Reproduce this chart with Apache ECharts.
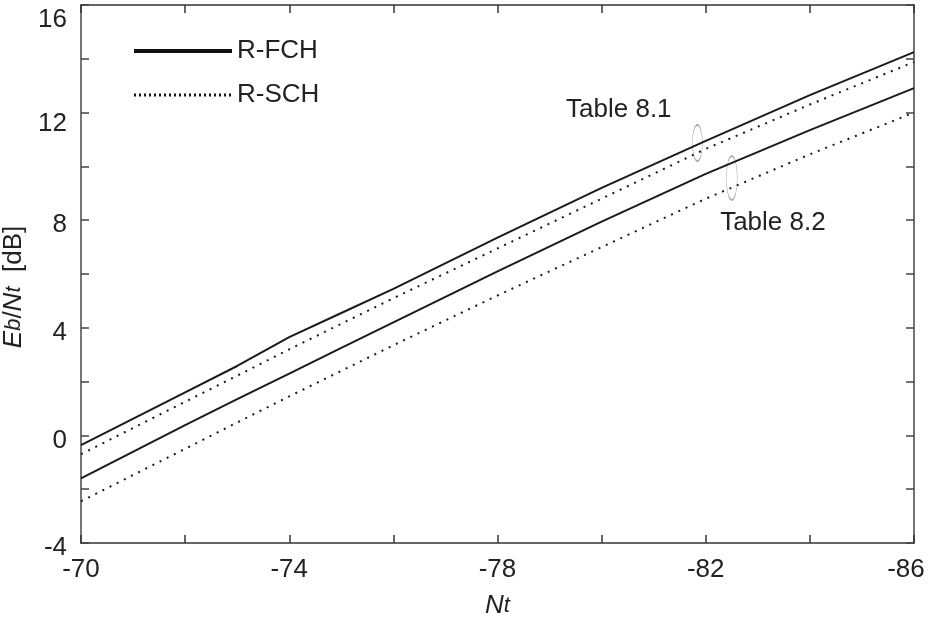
<!DOCTYPE html>
<html>
<head>
<meta charset="utf-8">
<script src="https://cdn.jsdelivr.net/npm/echarts@6/dist/echarts.min.js"></script>
<style>html,body{margin:0;padding:0;background:#fff}#c{width:929px;height:617px}</style>
</head>
<body>
<div id="c"></div>
<script>
// ---- data ----
const nt = [-70, -72, -73, -74, -75, -76, -78, -80, -82, -84, -86];
const fch81 = [-0.36, 1.6, 2.58, 3.65, 4.55, 5.45, 7.35, 9.2, 10.95, 12.65, 14.25];
const sch81 = [-0.7, 1.25, 2.22, 3.2, 4.15, 5.1, 6.95, 8.8, 10.65, 12.3, 13.88];
const fch82 = [-1.6, 0.38, 1.35, 2.3, 3.25, 4.2, 6.1, 7.95, 9.72, 11.35, 12.91];
const sch82 = [-2.45, -0.5, 0.48, 1.45, 2.4, 3.35, 5.2, 7.0, 8.8, 10.45, 12.0];
const legendNames = ['R-FCH', 'R-SCH'];
const annotTexts = ['Table 8.1', 'Table 8.2'];
const annotTextPos = [[-80.33, 12.1], [-83.29, 7.9]];
const ellipsePos = [[-81.84, 10.87], [-82.5, 9.57]];
const ellipseSize = [[10, 36], [11, 44]];

const FONT = 'Liberation Sans, Arial, sans-serif';
const FS = 26;
const TXT = '#222';
const pts = v => nt.map((x, i) => [x, v[i]]);
const lineCol = '#1a1a1a';
const solid = { color: lineCol, width: 2, type: 'solid' };
const dotted = { color: lineCol, width: 2, type: [2, 6] };
const lbl = extra => Object.assign({ fontSize: FS, color: TXT, fontFamily: FONT }, extra);

const axisCommonX = {
  type: 'value', min: -86, max: -70, interval: 2, inverse: true,
  splitLine: { show: false },
  axisTick: { inside: true, length: 8, lineStyle: { color: '#333', width: 1.5 } },
  axisLine: { onZero: false, lineStyle: { color: '#333', width: 1.5 } }
};
const axisCommonY = {
  type: 'value', min: -4, max: 16, interval: 2,
  splitLine: { show: false },
  axisTick: { inside: true, length: 8, lineStyle: { color: '#444', width: 1.5 } },
  axisLine: { onZero: false, lineStyle: { color: '#444', width: 1.5 } }
};

const chart = echarts.init(document.getElementById('c'), null, { renderer: 'canvas' });
chart.setOption({
  animation: false,
  backgroundColor: '#fff',
  textStyle: { fontFamily: FONT },
  grid: { left: 81, right: 15, top: 5, bottom: 74, containLabel: false, outerBoundsMode: 'none' },
  legend: {
    orient: 'vertical', left: 127, top: 33,
    itemWidth: 98, itemHeight: 14, itemGap: 18,
    textStyle: { fontFamily: FONT, fontSize: FS, color: TXT },
    data: [
      { name: legendNames[0], lineStyle: { width: 4, color: '#111', type: 'solid' }, itemStyle: { color: 'rgba(0,0,0,0)', borderWidth: 0, opacity: 0 } },
      { name: legendNames[1], lineStyle: { width: 3, color: '#111', type: [2, 3] }, itemStyle: { color: 'rgba(0,0,0,0)', borderWidth: 0, opacity: 0 } }
    ]
  },
  xAxis: [
    Object.assign({}, axisCommonX, {
      position: 'bottom',
      axisLabel: {
        margin: 14, fontSize: FS, color: TXT, fontFamily: FONT,
        showMinLabel: true, showMaxLabel: true,
        formatter: v => ((v + 70) % 4 !== 0 ? '' : (v === -86 ? '{e|' + v + '}' : '{n|' + v + '}')),
        rich: { n: lbl({}), e: lbl({ padding: [0, 16, 0, 0] }) }
      },
      name: '{i|N}{s|t}', nameLocation: 'middle', nameGap: 50,
      nameTextStyle: {
        rich: {
          i: lbl({ fontStyle: 'italic' }),
          s: lbl({ fontStyle: 'italic', fontSize: 22 })
        }
      }
    }),
    Object.assign({}, axisCommonX, { position: 'top', axisLabel: { show: false } })
  ],
  yAxis: [
    Object.assign({}, axisCommonY, {
      position: 'left',
      axisLine: { onZero: false, lineStyle: { color: '#777', width: 2 } },
      axisLabel: {
        margin: 14, fontSize: FS, color: TXT, fontFamily: FONT,
        showMinLabel: true, showMaxLabel: true,
        formatter: v => (v % 4 !== 0 ? '' : '{' + (v === 16 ? 'a' : v === 12 ? 'b' : 'n') + '|' + v + '}'),
        rich: {
          n: lbl({ padding: [10, 0, 0, 0] }),
          b: lbl({ padding: [22, 0, 0, 0] }),
          a: lbl({ padding: [30, 0, 0, 0] })
        }
      },
      name: '{i|E}{s|b}{n|/}{i|N}{s|t}{n|  [dB]}', nameLocation: 'middle', nameGap: 46,
      nameTextStyle: {
        padding: [0, 26, 0, 0],
        rich: {
          i: lbl({ fontStyle: 'italic' }),
          s: lbl({ fontStyle: 'italic', fontSize: 22 }),
          n: lbl({})
        }
      }
    }),
    Object.assign({}, axisCommonY, { position: 'right', axisLabel: { show: false } })
  ],
  series: [
    { name: legendNames[0], type: 'line', symbol: 'none', data: pts(fch81), lineStyle: solid, itemStyle: { color: lineCol } },
    { name: legendNames[1], type: 'line', symbol: 'none', data: pts(sch81), lineStyle: dotted, itemStyle: { color: lineCol } },
    { name: legendNames[0], type: 'line', symbol: 'none', data: pts(fch82), lineStyle: solid, itemStyle: { color: lineCol } },
    { name: legendNames[1], type: 'line', symbol: 'none', data: pts(sch82), lineStyle: dotted, itemStyle: { color: lineCol } },
    {
      name: 'ellipses', type: 'scatter', symbol: 'circle', silent: true,
      itemStyle: { color: 'rgba(0,0,0,0)', borderColor: '#aaa', borderWidth: 1, opacity: 1 },
      data: ellipsePos.map((p, i) => ({ value: p, symbolSize: ellipseSize[i] }))
    },
    {
      name: 'annot', type: 'scatter', symbolSize: 0, silent: true,
      itemStyle: { opacity: 1, color: TXT },
      label: { show: true, position: 'inside', fontSize: FS, color: TXT, fontFamily: FONT, formatter: p => p.name },
      data: annotTextPos.map((p, i) => ({ name: annotTexts[i], value: p }))
    }
  ]
});
</script>
</body>
</html>
